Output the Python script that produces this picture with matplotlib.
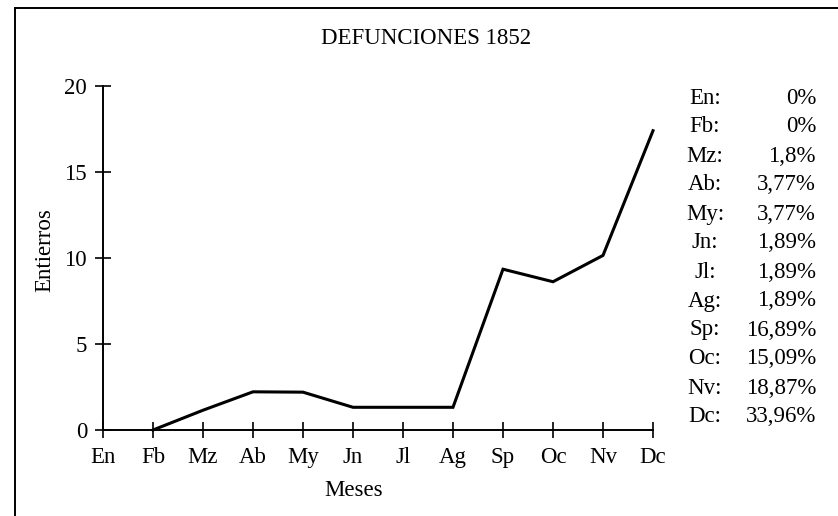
import matplotlib
matplotlib.use("Agg")
import matplotlib.pyplot as plt

plt.rcParams.update({
    'font.family': ['Liberation Serif', 'DejaVu Serif'],
    'font.size': 16.5,
})

# data
months = ['En', 'Fb', 'Mz', 'Ab', 'My', 'Jn', 'Jl', 'Ag', 'Sp', 'Oc', 'Nv', 'Dc']
plot_months = months[1:]
entierros = [0, 1.15, 2.22, 2.2, 1.32, 1.32, 1.32, 9.35, 8.62, 10.15, 17.4]
pct_labels = ['0%', '0%', '1,8%', '3,77%', '3,77%', '1,89%', '1,89%', '1,89%',
              '16,89%', '15,09%', '18,87%', '33,96%']
yticks = [0, 5, 10, 15, 20]

W, H = 838, 516
fig = plt.figure(figsize=(W / 100, H / 100), dpi=100)
ax = fig.add_axes([103 / W, 86 / H, 550 / W, 344 / H])

xs = [months.index(m) for m in plot_months]
ax.plot(xs, entierros, color='black', lw=2.2, solid_joinstyle='miter', clip_on=False)

ax.set_xlim(0, 11)
ax.set_ylim(0, 20)
ax.set_xticks(range(len(months)))
ax.set_xticklabels(months)
ax.set_yticks(yticks)
for s in ['top', 'right']:
    ax.spines[s].set_visible(False)
for s in ['left', 'bottom']:
    ax.spines[s].set_linewidth(1.4)
ax.tick_params(direction='inout', length=11, width=1.2, labelsize=16.5)
ax.tick_params(axis='y', pad=6)
ax.tick_params(axis='x', pad=7)

# titles / axis labels placed to match the scan
fig.text(426 / W, 1 - 38 / H, 'DEFUNCIONES 1852', ha='center', va='center')
fig.text(354 / W, 1 - 490 / H, 'Meses', ha='center', va='center')
fig.text(45 / W, 1 - 250 / H, 'Entierros', ha='center', va='center', rotation=90)

# percentage table at the right
for i, (m, p) in enumerate(zip(months, pct_labels)):
    yy = 1 - (98 + i * 29) / H
    fig.text(705 / W, yy, m + ':', ha='center', va='center')
    fig.text(816 / W, yy, p, ha='right', va='center')

# frame around the figure (left and top visible, others cut)
fig.add_artist(plt.Line2D([15 / W, 15 / W], [0, 1 - 8 / H], color='black', lw=1.4))
fig.add_artist(plt.Line2D([15 / W, 1], [1 - 8 / H, 1 - 8 / H], color='black', lw=1.4))

fig.savefig('out.png', dpi=100, facecolor='white')
